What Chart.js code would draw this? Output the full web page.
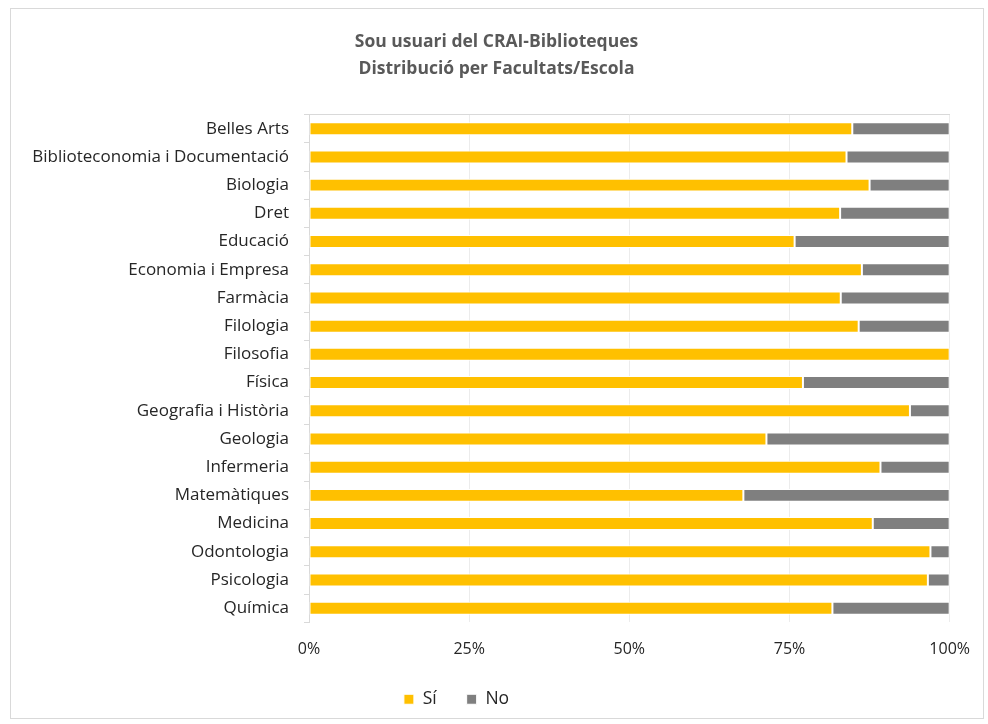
<!DOCTYPE html>
<html>
<head>
<meta charset="utf-8">
<script src="https://cdn.jsdelivr.net/npm/chart.js@4.4.1/dist/chart.umd.min.js"></script>
<style>
  html, body { margin: 0; padding: 0; background: #fff; }
  #wrap { width: 988px; height: 724px; }
</style>
</head>
<body>
<div id="wrap"><canvas id="chart"></canvas></div>
<script>
const categories = [
  "Belles Arts", "Biblioteconomia i Documentació", "Biologia", "Dret", "Educació",
  "Economia i Empresa", "Farmàcia", "Filologia", "Filosofia", "Física",
  "Geografia i Història", "Geologia", "Infermeria", "Matemàtiques", "Medicina",
  "Odontologia", "Psicologia", "Química"
]
const si = [84.8, 83.9, 87.5, 82.9, 75.8, 86.3, 83.0, 85.8, 100, 77.1, 93.8, 71.4, 89.2, 67.8, 88.0, 97.0, 96.6, 81.7]
const no = [15.2, 16.1, 12.5, 17.1, 24.2, 13.7, 17.0, 14.2, 0, 22.9, 6.2, 28.6, 10.8, 32.2, 12.0, 3.0, 3.4, 18.3]
const tickValues = [0, 25, 50, 75, 100]
const titleLines = ["Sou usuari del CRAI-Biblioteques", "Distribució per Facultats/Escola"]

const FONT = "'Open Sans', sans-serif"
const TEXT = "#262626"

// outer frame + white background
const framePlugin = {
  id: "frame",
  beforeDraw(chart) {
    const c = chart.ctx
    c.save()
    c.fillStyle = "#fff"
    c.fillRect(0, 0, chart.width, chart.height)
    c.strokeStyle = "#d9d9d9"
    c.lineWidth = 1
    c.strokeRect(10.5, 8.5, 973, 710)
    c.restore()
  }
}

// nudge the legend to where Excel put it
const legendShift = {
  id: "legendShift",
  afterLayout(chart) {
    const lg = chart.legend
    if (!lg) return
    lg.left -= 40
    lg.right -= 40
    lg.top -= 17
    lg.bottom -= 17
  }
}

new Chart(document.getElementById("chart"), {
  type: "bar",
  data: {
    labels: categories,
    datasets: [
      {
        label: "Sí",
        data: si,
        backgroundColor: "#FFC000",
        borderColor: "#ffffff",
        borderWidth: 1,
        borderSkipped: false,
        barPercentage: 0.46,
        categoryPercentage: 1
      },
      {
        label: "No",
        data: no,
        backgroundColor: "#7F7F7F",
        borderColor: "#ffffff",
        borderWidth: 1,
        borderSkipped: false,
        barPercentage: 0.46,
        categoryPercentage: 1
      }
    ]
  },
  options: {
    indexAxis: "y",
    responsive: true,
    maintainAspectRatio: false,
    animation: false,
    layout: {
      padding: { top: 10, left: 10, right: 5, bottom: -11 }
    },
    plugins: {
      title: {
        display: true,
        text: titleLines,
        color: "#595959",
        font: { family: FONT, size: 17.5, weight: "bold", lineHeight: 1.56 },
        padding: { top: 18, bottom: 24 }
      },
      legend: {
        position: "bottom",
        labels: {
          color: TEXT,
          font: { family: FONT, size: 17.5 },
          boxWidth: 10,
          boxHeight: 10,
          padding: 30
        }
      },
      tooltip: { enabled: false }
    },
    scales: {
      x: {
        stacked: true,
        min: 0,
        max: 100,
        afterBuildTicks: (scale) => { scale.ticks = tickValues.map(v => ({ value: v })) },
        ticks: {
          color: TEXT,
          font: { family: FONT, size: 16 },
          padding: 18,
          callback: (v) => v + "%"
        },
        grid: { color: "#ececec", drawTicks: false },
        border: { display: false }
      },
      xTop: {
        axis: "x",
        type: "linear",
        position: "top",
        ticks: { display: false },
        grid: { display: false },
        border: { display: true, color: "#d9d9d9", width: 1 }
      },
      y: {
        stacked: true,
        ticks: {
          color: TEXT,
          font: { family: FONT, size: 17 },
          padding: 15
        },
        grid: { drawOnChartArea: false, tickLength: 5, color: "#d9d9d9" },
        border: { display: true, color: "#d9d9d9", width: 1 },
        afterFit: (scale) => { scale.width = 299 }
      },
      yRight: {
        axis: "y",
        type: "linear",
        position: "right",
        ticks: { display: false },
        grid: { display: false },
        border: { display: false },
        afterFit: (scale) => { scale.width = 33 }
      }
    }
  },
  plugins: [framePlugin, legendShift]
})
</script>
</body>
</html>
